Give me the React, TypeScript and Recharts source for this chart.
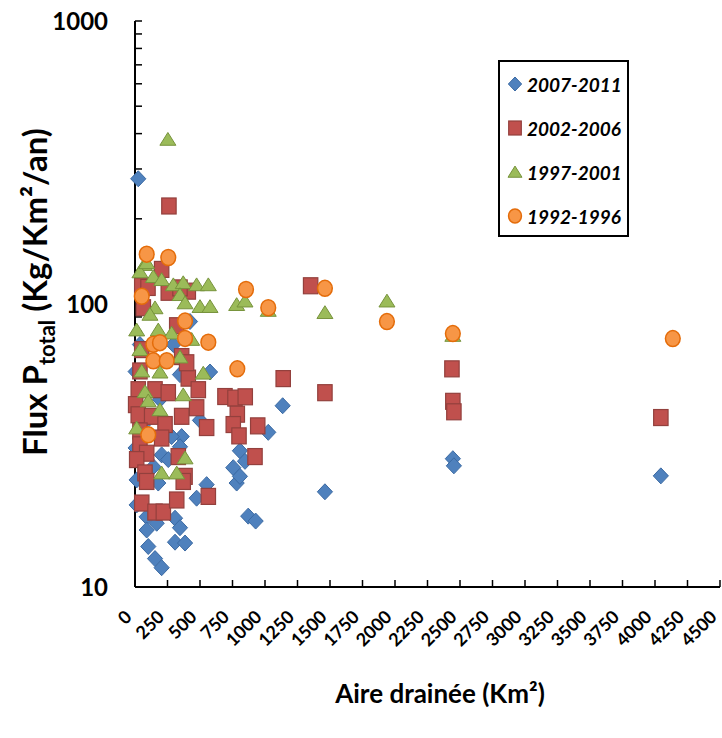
import React from 'react';
import { ScatterChart, Scatter, XAxis, YAxis, Legend } from 'recharts';

// Aire drainée (Km²) and Flux P total (Kg/Km²/an), read per period
const AREA_2007 = [25, 5, 577, 346, 423, 295, 38, 500, 359, 346, 205, 256, 141, 5, 756, 13, 179, 13, 90, 167, 90, 308, 346, 308, 385, 102, 154, 205, 474, 551, 782, 1025, 807, 846, 807, 871, 928, 1136, 1461, 2445, 2453, 4045, 192, 64, 282];
const FLUX_2007 = [277, 57.7, 57.5, 56.3, 86.7, 71.9, 71.9, 38.8, 34.0, 31.3, 29.3, 28.2, 26.6, 31, 26.4, 23.9, 23.3, 19.5, 17.7, 16.8, 15.9, 17.5, 16.2, 14.4, 14.3, 13.9, 12.6, 11.7, 20.6, 23.0, 23.3, 35.2, 30.3, 27.8, 24.6, 17.8, 17.1, 43.7, 21.7, 28.4, 26.8, 24.7, 46, 37.5, 34];

const AREA_2002 = [261, 205, 52, 100, 256, 410, 346, 64, 321, 359, 410, 487, 692, 154, 256, 25, 5, 474, 359, 25, 128, 231, 551, 38, 205, 38, 90, 13, 333, 77, 385, 90, 371, 52, 154, 218, 321, 564, 1351, 1140, 1461, 769, 848, 787, 756, 800, 944, 923, 2438, 2445, 2453, 4045, 52, 38, 397];
const FLUX_2002 = [222, 132.5, 115.8, 114.4, 110, 111, 114, 97, 83.8, 65.2, 54.7, 49.8, 47.1, 49.8, 48.6, 49.8, 44.1, 43, 40.1, 40.6, 40.1, 37.5, 36.6, 35.6, 33.6, 31.8, 29.7, 28.2, 28.9, 25.3, 24.6, 23.6, 23.6, 19.8, 18.4, 18.4, 20.3, 20.9, 116, 54.5, 48.6, 46.5, 47, 40.8, 37.5, 34.2, 37.1, 28.9, 59, 45.3, 41.6, 39.7, 69, 58, 62];

const AREA_1997 = [253, 72, 38, 141, 205, 295, 371, 474, 564, 346, 154, 115, 500, 577, 385, 782, 846, 1025, 1461, 1938, 2445, 13, 179, 282, 436, 346, 38, 52, 192, 525, 77, 371, 102, 192, 13, 385, 205, 321, 90];
const FLUX_1997 = [382, 138, 130, 125, 122, 117, 119, 117, 117, 108, 97, 92, 98, 98, 101, 99.6, 102.5, 95, 93.3, 102.5, 77.5, 81, 81, 79, 75, 65, 69, 58, 57.5, 57, 49, 47.8, 45.5, 42.3, 36.5, 28.6, 25.3, 25.3, 140];

const AREA_1992 = [90, 256, 52, 385, 385, 564, 141, 192, 141, 244, 102, 787, 854, 1025, 1461, 1938, 2445, 4137];
const FLUX_1992 = [150, 146, 106.5, 87, 75.6, 73.3, 72, 73, 63, 63, 34.5, 59, 112.5, 97, 113.6, 86.7, 78.6, 75.5];

const X_TICKS = [0, 250, 500, 750, 1000, 1250, 1500, 1750, 2000, 2250, 2500, 2750, 3000, 3250, 3500, 3750, 4000, 4250, 4500];
const Y_TICKS = [10, 20, 30, 40, 50, 60, 70, 80, 90, 100, 200, 300, 400, 500, 600, 700, 800, 900, 1000];
const Y_LABELS = [10, 100, 1000];

const FONT = 'Lato, "Open Sans", sans-serif';

const toPoints = (xs: number[], ys: number[]) => xs.map((x, i) => ({ area: x, flux: ys[i] }));

const drawDiamond = (cx: number, cy: number, r: number) => (
  <polygon points={`${cx},${cy - r} ${cx + r * 0.95},${cy} ${cx},${cy + r} ${cx - r * 0.95},${cy}`} fill="#4F81BD" stroke="#3B6AA3" strokeWidth={1} />
);
const drawSquare = (cx: number, cy: number, r: number) => (
  <rect x={cx - r * 0.9} y={cy - r} width={r * 1.8} height={r * 2} fill="#C0504D" stroke="#93403D" strokeWidth={1.2} />
);
const drawTriangle = (cx: number, cy: number, r: number) => (
  <polygon points={`${cx},${cy - r * 0.85} ${cx + r},${cy + r * 0.75} ${cx - r},${cy + r * 0.75}`} fill="#9BBB59" stroke="#77933C" strokeWidth={1} />
);
const drawCircle = (cx: number, cy: number, r: number) => (
  <ellipse cx={cx} cy={cy} rx={r * 0.92} ry={r} fill="#F79646" stroke="#E46C0A" strokeWidth={1.5} />
);

const SERIES = [
  { name: '2007-2011', data: toPoints(AREA_2007, FLUX_2007), draw: drawDiamond },
  { name: '2002-2006', data: toPoints(AREA_2002, FLUX_2002), draw: drawSquare },
  { name: '1997-2001', data: toPoints(AREA_1997, FLUX_1997), draw: drawTriangle },
  { name: '1992-1996', data: toPoints(AREA_1992, FLUX_1992), draw: drawCircle },
];

const XTick = (props: any) => {
  const { x, y, payload } = props;
  return (
    <text transform={`translate(${x - 2},${y}) rotate(-45)`} textAnchor="end" fontFamily={FONT} fontWeight="bold" fontSize={18} fill="#000">
      {payload.value}
    </text>
  );
};

const yTitle = (props: any) => {
  const cx = 47;
  const cy = 292;
  return (
    <text transform={`rotate(-90, ${cx}, ${cy})`} x={cx} y={cy} textAnchor="middle" fontFamily={FONT} fontWeight="bold" fontSize={33} fill="#000">
      Flux P
      <tspan dy={8} fontSize={22}>total</tspan>
      <tspan dy={-8}> (Kg/Km²/an)</tspan>
    </text>
  );
};

const xTitle = (props: any) => (
  <text x={440} y={703} textAnchor="middle" fontFamily={FONT} fontWeight="bold" fontSize={26} fill="#000">
    Aire drainée (Km²)
  </text>
);

const LegendBox = () => (
  <div style={{ width: 131, height: 177, border: '2px solid #000', boxSizing: 'border-box', background: '#fff' }}>
    {SERIES.map((s) => (
      <div key={s.name} style={{ display: 'flex', alignItems: 'center', height: 44 }}>
        <svg width={24} height={20} style={{ marginLeft: 3 }}>
          {s.draw(12, 10, 7)}
        </svg>
        <span style={{ fontFamily: FONT, fontWeight: 'bold', fontStyle: 'italic', fontSize: 19, color: '#000' }}>{s.name}</span>
      </div>
    ))}
  </div>
);

export default function App() {
  return (
    <div style={{ position: 'absolute', left: 0, top: 0, width: 722, height: 738, background: '#fff' }}>
      <ScatterChart width={722} height={738} margin={{ top: 21, right: 2, bottom: 0, left: 0 }}>
        <XAxis
          type="number"
          dataKey="area"
          domain={[0, 4500]}
          ticks={X_TICKS}
          interval={0}
          height={151}
          tickSize={-7}
          tickMargin={38}
          axisLine={{ stroke: '#000', strokeWidth: 2 }}
          tickLine={{ stroke: '#000', strokeWidth: 1.5 }}
          tick={<XTick />}
          label={xTitle}
        />
        <YAxis
          type="number"
          dataKey="flux"
          scale="log"
          domain={[10, 1000]}
          allowDataOverflow
          ticks={Y_TICKS}
          interval={0}
          width={135}
          tickSize={-7}
          tickMargin={34}
          tickFormatter={(v: number) => (Y_LABELS.includes(v) ? String(v) : '')}
          axisLine={{ stroke: '#000', strokeWidth: 2 }}
          tickLine={{ stroke: '#000', strokeWidth: 1.5 }}
          tick={{ fontFamily: FONT, fontWeight: 'bold', fontSize: 24, fill: '#000' }}
          label={yTitle}
        />
        <Legend
          layout="vertical"
          align="center"
          verticalAlign="middle"
          content={<LegendBox />}
          wrapperStyle={{ position: 'absolute', left: 498, top: 60, width: 131, height: 177 }}
        />
        {SERIES.map((s) => (
          <Scatter
            key={s.name}
            name={s.name}
            data={s.data}
            isAnimationActive={false}
            shape={(p: any) => s.draw(p.cx, p.cy, 8)}
          />
        ))}
      </ScatterChart>
    </div>
  );
}
